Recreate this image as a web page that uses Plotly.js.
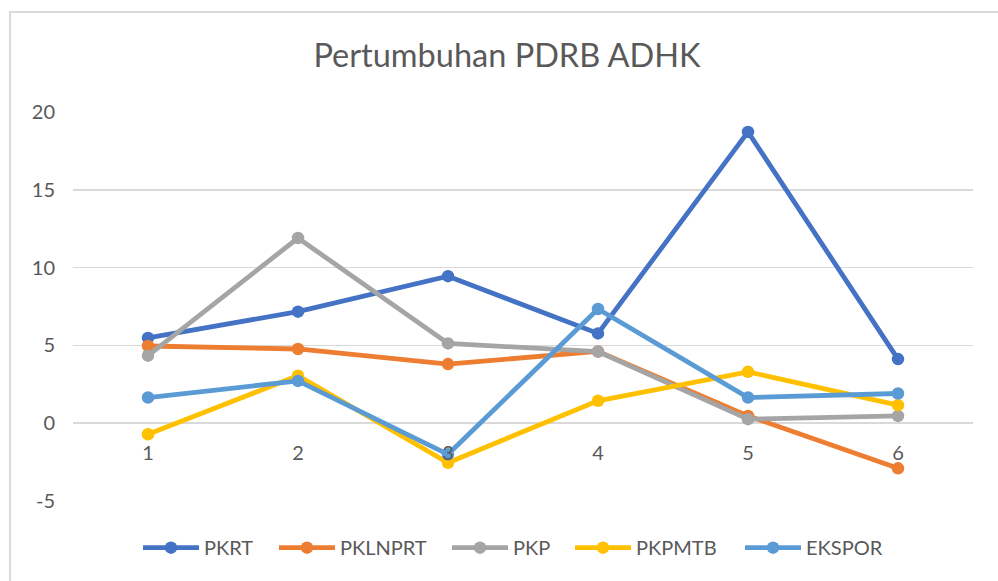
<!DOCTYPE html>
<html>
<head>
<meta charset="utf-8">
<script src="https://cdn.plot.ly/plotly-3.0.1.min.js"></script>
<style>
  html, body { margin: 0; padding: 0; width: 998px; height: 581px; overflow: hidden; background: #fff; }
  #frame { position: absolute; left: 9px; top: 11px; width: 1100px; height: 700px; border: 2px solid #d9d9d9; box-sizing: border-box; pointer-events: none; }
  #chart { position: absolute; left: 0; top: 0; width: 998px; height: 581px; }
</style>
</head>
<body>
<div id="chart"></div>
<div id="frame"></div>
<script>
// ---- data ----
const categories = ["1", "2", "3", "4", "5", "6"];
const seriesNames = ["PKRT", "PKLNPRT", "PKP", "PKPMTB", "EKSPOR"];
const PKRT    = [5.48, 7.17, 9.45, 5.77, 18.72, 4.12];
const PKLNPRT = [4.96, 4.77, 3.80, 4.61, 0.47, -2.90];
const PKP     = [4.34, 11.90, 5.13, 4.60, 0.26, 0.47];
const PKPMTB  = [-0.71, 3.05, -2.54, 1.44, 3.30, 1.16];
const EKSPOR  = [1.65, 2.72, -2.00, 7.34, 1.65, 1.91];
const yTickVals = [-5, 0, 5, 10, 15, 20];
const yTickText = ["-5", "0", "5", "10", "15", "20"];

const colors = ["#4472C4", "#ED7D31", "#A5A5A5", "#FFC000", "#5B9BD5"];
const values = [PKRT, PKLNPRT, PKP, PKPMTB, EKSPOR];
const xPos = categories.map((c, i) => i + 1);

// legend entry left edges (px in page) for each series
const legendLeftPx = [148, 284, 457, 580, 750];
const legendIds = ["legend", "legend2", "legend3", "legend4", "legend5"];

const traces = seriesNames.map((name, k) => ({
  type: "scatter",
  mode: "lines+markers",
  name: name,
  legend: legendIds[k],
  x: xPos,
  y: values[k],
  line: { color: colors[k], width: 4.8 },
  marker: { color: colors[k], size: 12.5 },
  cliponaxis: false
}));

const font = "Lato, 'Open Sans', sans-serif";
const plotL = 73, plotW = 900;
const layout = {
  width: 998,
  height: 581,
  margin: { l: plotL, r: 998 - plotL - plotW, t: 112, b: 80 },
  paper_bgcolor: "rgba(0,0,0,0)",
  plot_bgcolor: "rgba(0,0,0,0)",
  font: { family: font, color: "#595959", size: 19 },
  title: {
    text: "Pertumbuhan PDRB ADHK",
    font: { family: font, size: 32.5, color: "#595959", weight: 400 },
    x: 0.508, xanchor: "center", xref: "container",
    y: 1 - 56 / 581, yanchor: "middle", yref: "container"
  },
  showlegend: true,
  xaxis: {
    range: [0.5, 6.5],
    tickvals: xPos,
    ticktext: categories,
    showgrid: false,
    zeroline: false,
    showline: false,
    anchor: "free",
    position: 0.2,
    ticks: "outside",
    ticklen: 12,
    tickcolor: "rgba(0,0,0,0)",
    tickfont: { family: font, size: 20, color: "#595959" },
    fixedrange: true
  },
  yaxis: {
    range: [-5, 20],
    tickvals: yTickVals,
    ticktext: yTickText,
    showgrid: true,
    gridcolor: "#d9d9d9",
    gridwidth: 1.5,
    zeroline: false,
    showline: false,
    ticks: "outside",
    ticklen: 13,
    tickcolor: "rgba(0,0,0,0)",
    tickfont: { family: font, size: 20, color: "#595959" },
    fixedrange: true
  }
};

legendIds.forEach((id, k) => {
  layout[id] = {
    orientation: "h",
    x: (legendLeftPx[k] - 10 - plotL) / plotW, xanchor: "left",
    y: -0.12, yanchor: "middle",
    itemwidth: 56,
    font: { family: font, size: 20, color: "#595959" },
    bgcolor: "rgba(0,0,0,0)"
  };
});

Plotly.newPlot("chart", traces, layout, { displayModeBar: false, staticPlot: true });
</script>
</body>
</html>
